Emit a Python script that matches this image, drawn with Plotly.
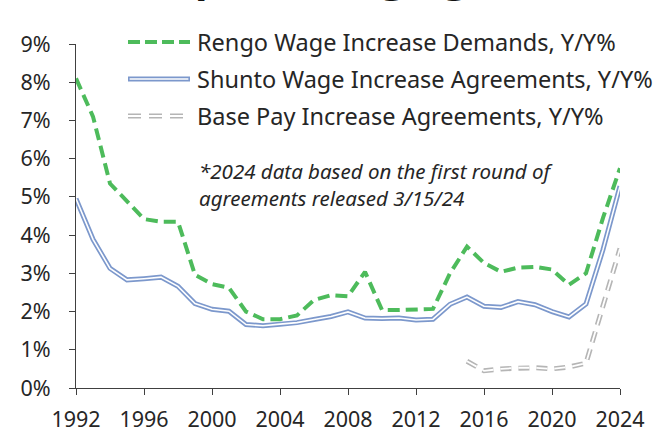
import plotly.graph_objects as go

years = list(range(1992, 2025))
rengo = [8.1, 7.1, 5.35, 4.9, 4.42, 4.35, 4.35, 2.96, 2.72, 2.62, 2.0, 1.8, 1.8, 1.9,
         2.3, 2.43, 2.4, 3.04, 2.04, 2.04, 2.05, 2.07, 3.0, 3.7, 3.27, 3.04, 3.15, 3.17,
         3.1, 2.7, 3.0, 4.45, 5.75]
shunto = [4.95, 3.89, 3.13, 2.83, 2.86, 2.90, 2.66, 2.21, 2.06, 2.01, 1.66, 1.63, 1.67,
          1.71, 1.79, 1.87, 1.99, 1.83, 1.82, 1.83, 1.78, 1.80, 2.19, 2.38, 2.14, 2.11,
          2.26, 2.18, 2.00, 1.86, 2.20, 3.62, 5.28]
base_years = list(range(2015, 2025))
base_pay = [0.70, 0.45, 0.50, 0.53, 0.53, 0.50, 0.55, 0.65, 2.15, 3.65]

y_ticks = list(range(0, 10))
y_labels = [f"{v}%" for v in y_ticks]
x_ticks = list(range(1992, 2025, 4))

names = ["Rengo Wage Increase Demands, Y/Y%",
         "Shunto Wage Increase Agreements, Y/Y%",
         "Base Pay Increase Agreements, Y/Y%"]
note = "*2024 data based on the first round of<br>agreements released 3/15/24"
title = "Japan's Wage growth"

GREEN = "#4DBB5B"
BLUE = "#7C98CC"
GRAY = "#B5B5B5"
FONT = "Noto Sans"
TXT = "#262626"
AX = "#404040"

fig = go.Figure()
fig.add_trace(go.Scatter(x=years, y=shunto, mode="lines",
                         line=dict(color=BLUE, width=5), showlegend=False, hoverinfo="skip"))
fig.add_trace(go.Scatter(x=years, y=shunto, mode="lines",
                         line=dict(color="white", width=1.6), showlegend=False, hoverinfo="skip"))
fig.add_trace(go.Scatter(x=base_years, y=base_pay, mode="lines",
                         line=dict(color=GRAY, width=5, dash="11px,7px"), showlegend=False))
fig.add_trace(go.Scatter(x=base_years, y=base_pay, mode="lines",
                         line=dict(color="white", width=1.8, dash="11px,7px"), showlegend=False))
fig.add_trace(go.Scatter(x=years, y=rengo, mode="lines",
                         line=dict(color=GREEN, width=4, dash="12px,6px"), showlegend=False))

L, R, T, B = 76, 37, 44, 47
W, H = 657, 435
pw, ph = W - L - R, H - T - B

def px(x):
    return (x - L) / pw

def py(y):
    return (H - B - y) / ph

# manual legend
leg_y = [42, 79, 116]
x0, x1 = px(128), px(190)
shapes = [
    dict(type="line", xref="paper", yref="paper", x0=x0, x1=x1, y0=py(leg_y[0]), y1=py(leg_y[0]),
         line=dict(color=GREEN, width=4, dash="12px,5px")),
    dict(type="line", xref="paper", yref="paper", x0=x0, x1=x1, y0=py(leg_y[1]), y1=py(leg_y[1]),
         line=dict(color=BLUE, width=5)),
    dict(type="line", xref="paper", yref="paper", x0=x0 + 0.003, x1=x1 - 0.003, y0=py(leg_y[1]), y1=py(leg_y[1]),
         line=dict(color="white", width=1.6)),
    dict(type="line", xref="paper", yref="paper", x0=x0, x1=px(186), y0=py(leg_y[2]), y1=py(leg_y[2]),
         line=dict(color=GRAY, width=5, dash="13px,8px")),
    dict(type="line", xref="paper", yref="paper", x0=x0, x1=px(186), y0=py(leg_y[2]), y1=py(leg_y[2]),
         line=dict(color="white", width=1.8, dash="13px,8px")),
]
annotations = []
for name, yy in zip(names, leg_y):
    annotations.append(dict(text=name, xref="paper", yref="paper", x=px(195), y=py(yy),
                            xanchor="left", yanchor="middle", showarrow=False,
                            font=dict(family=FONT, size=23.5, color=TXT)))
annotations.append(dict(text=note, xref="paper", yref="paper", x=px(197), y=py(155),
                        xanchor="left", yanchor="top", showarrow=False, align="left",
                        font=dict(family=FONT, size=20.5, color=TXT, style="italic")))
annotations.append(dict(text=f"<b>{title}</b>", xref="paper", yref="paper", x=px(150), y=py(-26),
                        xanchor="left", yanchor="middle", showarrow=False,
                        font=dict(family=FONT, size=42, color="#111111")))

fig.update_layout(
    width=W, height=H,
    margin=dict(l=L, r=R, t=T, b=B),
    plot_bgcolor="white", paper_bgcolor="white",
    shapes=shapes, annotations=annotations,
    showlegend=False,
    xaxis=dict(range=[1992, 2024], tickvals=x_ticks, ticks="outside", ticklen=6,
               tickcolor=AX, showline=True, linecolor=AX, linewidth=1.3, showgrid=False,
               zeroline=False, tickfont=dict(family=FONT, size=21.5, color=TXT),
               ticklabelstandoff=6, automargin=False),
    yaxis=dict(range=[0, 9], tickvals=y_ticks, ticktext=y_labels, ticks="outside", ticklen=6,
               tickcolor=AX, showline=True, linecolor=AX, linewidth=1.3, showgrid=False,
               zeroline=False, tickfont=dict(family=FONT, size=21.5, color=TXT),
               ticklabelstandoff=14, automargin=False),
)
fig.write_html("out.html", config={"displayModeBar": False},
               post_script="document.body.style.margin='0';document.body.style.overflow='hidden';")
